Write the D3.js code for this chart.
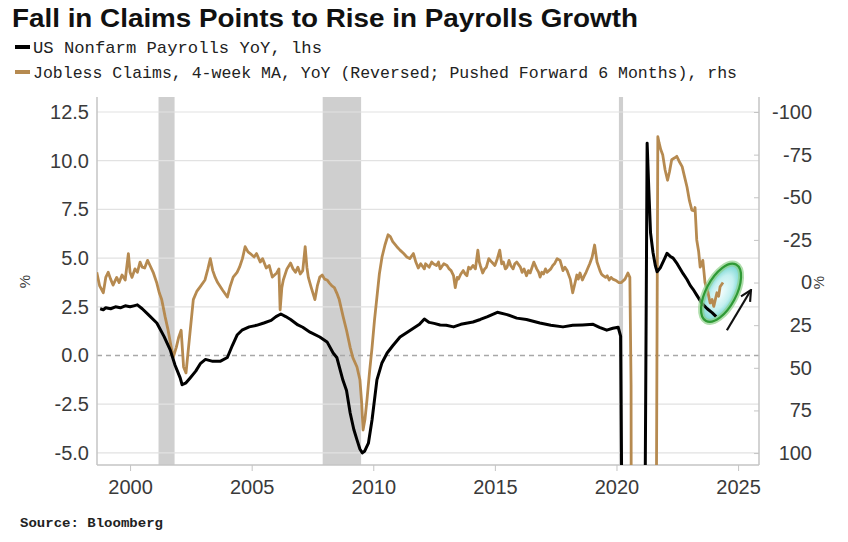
<!DOCTYPE html>
<html><head><meta charset="utf-8">
<script src="https://cdn.jsdelivr.net/npm/d3@7"></script>
<style>body{margin:0;background:#fff;} svg{display:block;}</style>
</head><body><svg id="c" width="848" height="542"></svg>
<script>
// ---------------- DATA ----------------
const titleText = "Fall in Claims Points to Rise in Payrolls Growth";
const legendLabels = ["US Nonfarm Payrolls YoY, lhs",
  "Jobless Claims, 4-week MA, YoY (Reversed; Pushed Forward 6 Months), rhs"];
const sourceText = "Source: Bloomberg";
const xTicks = [2000, 2005, 2010, 2015, 2020, 2025];
const leftTicks = [12.5, 10, 7.5, 5, 2.5, 0, -2.5, -5];
const rightTicks = [-100, -75, -50, -25, 0, 25, 50, 75, 100];
const recessions = [[2001.17, 2001.83], [2007.92, 2009.5], [2020.1, 2020.27]];

// US Nonfarm Payrolls YoY (%), [decimal year, value]
const payrolls = [
 [1998.77,2.4],[1998.9,2.35],[1999.0,2.45],[1999.2,2.4],[1999.4,2.5],[1999.6,2.45],[1999.8,2.55],
 [2000.0,2.5],[2000.15,2.55],[2000.3,2.6],[2000.5,2.4],[2000.75,2.1],[2001.1,1.67],[2001.4,0.97],
 [2001.65,0.29],[2001.85,-0.5],[2002.06,-1.15],[2002.14,-1.5],[2002.3,-1.4],[2002.47,-1.15],
 [2002.7,-0.8],[2002.9,-0.4],[2003.1,-0.2],[2003.4,-0.3],[2003.7,-0.3],[2004.0,-0.1],[2004.2,0.5],
 [2004.4,1.05],[2004.6,1.3],[2004.9,1.47],[2005.2,1.55],[2005.5,1.67],[2005.8,1.8],[2006.0,2.0],
 [2006.2,2.13],[2006.4,2.0],[2006.6,1.85],[2006.9,1.57],[2007.1,1.45],[2007.4,1.2],[2007.8,0.95],
 [2008.1,0.7],[2008.35,0.13],[2008.5,-0.1],[2008.75,-1.26],[2008.9,-1.8],[2009.05,-2.95],
 [2009.2,-3.8],[2009.33,-4.33],[2009.45,-4.8],[2009.55,-5.0],[2009.65,-4.9],[2009.8,-4.5],
 [2009.95,-3.3],[2010.15,-1.25],[2010.35,-0.4],[2010.57,0.13],[2010.8,0.5],[2011.1,0.95],
 [2011.4,1.2],[2011.65,1.4],[2011.9,1.6],[2012.1,1.87],[2012.3,1.7],[2012.5,1.65],[2012.75,1.57],
 [2013.0,1.55],[2013.3,1.47],[2013.6,1.6],[2014.1,1.72],[2014.4,1.85],[2014.7,2.0],[2015.1,2.22],
 [2015.5,2.1],[2015.9,1.92],[2016.3,1.85],[2016.85,1.67],[2017.3,1.55],[2017.8,1.47],[2018.2,1.55],
 [2018.6,1.57],[2019.04,1.6],[2019.3,1.45],[2019.6,1.3],[2019.85,1.4],[2020.07,1.45],[2020.17,1.0],
 [2020.25,-13.0],[2020.4,-10.0],[2020.6,-7.5],[2020.9,-6.3],[2021.1,-6.0],[2021.17,-9.0],
 [2021.26,10.9],[2021.33,8.5],[2021.4,6.3],[2021.5,5.3],[2021.6,4.6],[2021.67,4.3],[2021.8,4.5],
 [2021.95,4.9],[2022.08,5.25],[2022.2,5.1],[2022.33,5.0],[2022.5,4.7],[2022.74,4.2],[2022.9,3.9],
 [2023.03,3.6],[2023.15,3.4],[2023.3,3.1],[2023.5,2.7],[2023.73,2.4],[2023.93,2.2],[2024.1,2.0]
];

// Jobless claims 4wk MA YoY (%), reversed axis, pushed forward 6 months
const claims = [
 [1998.63,-6],[1998.75,2],[1998.9,6],[1999.0,-3],[1999.1,-6],[1999.2,-2],[1999.3,1.5],[1999.45,-3],
 [1999.55,0],[1999.67,-4.4],[1999.8,-1.5],[1999.93,-17],[2000.0,-6],[2000.08,-3],[2000.2,-8],
 [2000.3,-6],[2000.41,-12],[2000.5,-9],[2000.6,-8.5],[2000.72,-13],[2000.82,-10],[2000.95,-6],
 [2001.1,0.3],[2001.2,6],[2001.3,10],[2001.44,20],[2001.55,27],[2001.64,34],[2001.77,44],
 [2001.9,38],[2002.0,32],[2002.1,28],[2002.2,49.5],[2002.3,53],[2002.46,30],[2002.6,10],
 [2002.75,5],[2002.88,2.5],[2003.08,-1.5],[2003.2,-8],[2003.3,-14],[2003.4,-7],[2003.5,-3],
 [2003.6,0],[2003.8,4.4],[2004.0,8.5],[2004.12,2],[2004.24,-3.2],[2004.4,-6],[2004.5,-9],
 [2004.62,-14],[2004.73,-21],[2004.85,-18],[2004.94,-17],[2005.1,-15],[2005.2,-17],[2005.35,-12],
 [2005.45,-14],[2005.6,-8.5],[2005.72,-10],[2005.85,-3.2],[2006.03,-5.6],[2006.12,-8],[2006.17,16],
 [2006.24,3],[2006.3,-1.5],[2006.45,-8],[2006.6,-11.4],[2006.7,-8],[2006.8,-6],[2006.9,-9],
 [2007.0,-5],[2007.1,-7],[2007.2,-21],[2007.27,-9],[2007.33,-3],[2007.45,3],[2007.6,10],
 [2007.7,2],[2007.8,-3.2],[2007.9,-4.4],[2008.0,-2],[2008.1,-1.5],[2008.2,0.3],[2008.3,2],
 [2008.4,3],[2008.5,6.2],[2008.6,10],[2008.76,20],[2008.9,28],[2009.05,38],[2009.16,44],
 [2009.33,49.5],[2009.45,57],[2009.52,70],[2009.58,86.5],[2009.66,80],[2009.74,69],[2009.85,52],
 [2009.95,38],[2010.05,22],[2010.15,8.5],[2010.25,-5],[2010.36,-15],[2010.48,-22],[2010.61,-28],
 [2010.7,-27],[2010.8,-24],[2010.97,-21],[2011.1,-19],[2011.25,-17],[2011.38,-15],[2011.5,-14],
 [2011.65,-17],[2011.75,-12],[2011.85,-8.5],[2011.95,-11],[2012.0,-10],[2012.1,-8],[2012.15,-11],
 [2012.3,-9],[2012.4,-12],[2012.47,-11],[2012.6,-10],[2012.68,-12],[2012.75,-8],[2012.9,-11],
 [2013.03,-10],[2013.12,-8],[2013.2,-7],[2013.3,-4],[2013.37,3],[2013.45,-3],[2013.5,-2],
 [2013.6,-5],[2013.7,-7],[2013.78,-5],[2013.85,-4],[2013.92,-9],[2014.0,-8],[2014.1,-10],
 [2014.2,-8],[2014.3,-19],[2014.36,-12],[2014.4,-10],[2014.5,-5.6],[2014.58,-8],[2014.65,-9],
 [2014.75,-14],[2014.87,-12],[2015.0,-10],[2015.1,-14],[2015.2,-19],[2015.28,-11],[2015.35,-12],
 [2015.43,-8],[2015.5,-9],[2015.58,-13],[2015.65,-10],[2015.75,-8],[2015.82,-11],[2015.9,-12],
 [2016.05,-9],[2016.12,-6],[2016.2,-8],[2016.3,-4],[2016.38,-7],[2016.45,-5.6],[2016.53,-9],
 [2016.6,-12],[2016.72,-8],[2016.8,-6],[2016.86,-3.2],[2016.93,-6],[2017.0,-5],[2017.08,-8],
 [2017.15,-6],[2017.3,-8],[2017.38,-10],[2017.45,-11],[2017.56,-14],[2017.68,-13],[2017.74,-10],
 [2017.8,-7],[2017.88,-9],[2017.97,-7],[2018.1,-2],[2018.2,6],[2018.3,0],[2018.37,-4.4],
 [2018.43,-2],[2018.5,-5.6],[2018.6,-1.5],[2018.68,-4],[2018.75,-6],[2018.9,-11],[2019.0,-15],
 [2019.1,-22],[2019.2,-12],[2019.32,-7],[2019.38,-5],[2019.45,-4],[2019.55,-3],[2019.62,-4],
 [2019.7,-1.5],[2019.78,-3],[2019.85,-2],[2020.0,-1],[2020.1,0],[2020.2,0],[2020.35,-2],
 [2020.47,-5.6],[2020.55,-3],[2020.6,60],
 [2020.65,600],[2021.0,900],[2021.55,500],[2021.62,200],[2021.7,-85.5],[2021.75,-82],[2021.82,-78],
 [2021.9,-75],[2022.0,-66],[2022.1,-60],[2022.18,-65],[2022.27,-72],[2022.38,-73],[2022.48,-74],
 [2022.58,-71],[2022.7,-68],[2022.8,-62],[2022.9,-56],[2023.0,-48],[2023.1,-42.5],[2023.2,-42],
 [2023.23,-44],[2023.3,-25],[2023.38,-18],[2023.44,-9],[2023.55,-13],[2023.64,0],[2023.75,5],
 [2023.85,12],[2023.93,10],[2024.0,14],[2024.13,6],[2024.2,8],[2024.26,2.5],[2024.38,0]
];

// annotation (highlight ellipse and arrow), in data units
const highlight = {year: 2024.3, value: 6, rx: 15, ry: 32, angle: 28};
const arrowPts = [[2024.54, 28], [2025.53, 4.4]];

// ---------------- CHART ----------------
const svg = d3.select("#c");
const P = {l: 97, r: 759, t: 97, b: 465};
const x = d3.scaleLinear().domain([1998.64, 2025.86]).range([P.l, P.r]);
const yL = d3.scaleLinear().domain([-5.62, 13.27]).range([P.b, P.t]);
const yR = d3.scaleLinear().domain([107.0, -108.8]).range([P.b, P.t]);
const axisFont = "'Liberation Sans', Arial, sans-serif";
const txtCol = "#3a3a3a";

svg.append("rect").attr("width", 848).attr("height", 542).attr("fill", "#fff");

// recession shading
svg.append("g").selectAll("rect").data(recessions).join("rect")
  .attr("x", d => x(d[0])).attr("width", d => x(d[1]) - x(d[0]))
  .attr("y", P.t).attr("height", P.b - P.t).attr("fill", "#cfcfcf");

// gridlines
svg.append("g").selectAll("line").data(leftTicks).join("line")
  .attr("x1", P.l).attr("x2", P.r).attr("y1", d => yL(d)).attr("y2", d => yL(d))
  .attr("stroke", d => d === 0 ? "#a8a8a8" : "#e2e2e2")
  .attr("stroke-width", d => d === 0 ? 1.5 : 1.2)
  .attr("stroke-dasharray", d => d === 0 ? "5,4" : null);

// axes lines
const axCol = "#c4c4c4";
svg.append("line").attr("x1", P.l).attr("x2", P.l).attr("y1", P.t).attr("y2", P.b).attr("stroke", axCol).attr("stroke-width", 1.5);
svg.append("line").attr("x1", P.r).attr("x2", P.r).attr("y1", P.t).attr("y2", P.b).attr("stroke", axCol).attr("stroke-width", 1.5);
svg.append("line").attr("x1", P.l).attr("x2", P.r).attr("y1", P.b).attr("y2", P.b).attr("stroke", axCol).attr("stroke-width", 1.5);

// x axis
const xa = svg.append("g").attr("transform", `translate(0,${P.b})`)
  .call(d3.axisBottom(x).tickValues(xTicks).tickFormat(d => String(d)).tickSize(6).tickPadding(9));
xa.select(".domain").remove();
xa.selectAll("line").attr("stroke", axCol);
xa.selectAll("text").attr("font-family", axisFont).attr("font-size", 20).attr("fill", txtCol);

// left axis
const la = svg.append("g").attr("transform", `translate(${P.l},0)`)
  .call(d3.axisLeft(yL).tickValues(leftTicks).tickFormat(d => d.toFixed(1)).tickSize(0).tickPadding(8));
la.select(".domain").remove();
la.selectAll("text").attr("font-family", axisFont).attr("font-size", 20).attr("fill", txtCol);

// right axis
const ra = svg.append("g").attr("transform", `translate(${P.r},0)`)
  .call(d3.axisRight(yR).tickValues(rightTicks).tickFormat(d => String(d)).tickSize(0).tickPadding(0));
ra.select(".domain").remove();
ra.selectAll("text").attr("font-family", axisFont).attr("font-size", 20).attr("fill", txtCol)
  .attr("text-anchor", "end").attr("x", 53);
ra.selectAll(".tick").append("line").attr("x1", -5).attr("x2", 0).attr("stroke", axCol);

// % labels
svg.append("text").attr("transform", `translate(30,${yL(3.8)}) rotate(-90)`)
  .attr("text-anchor", "middle").attr("font-family", axisFont).attr("font-size", 15).attr("fill", txtCol).text("%");
svg.append("text").attr("transform", `translate(824,${yR(0)}) rotate(-90)`)
  .attr("text-anchor", "middle").attr("font-family", axisFont).attr("font-size", 15).attr("fill", txtCol).text("%");

// clip
svg.append("clipPath").attr("id", "clip").append("rect")
  .attr("x", P.l).attr("y", P.t).attr("width", P.r - P.l).attr("height", P.b - P.t);

// highlight ellipse fill (under lines)
const defs = svg.append("defs");
const rg = defs.append("radialGradient").attr("id", "hg");
rg.append("stop").attr("offset", "0%").attr("stop-color", "#f2fdfd");
rg.append("stop").attr("offset", "60%").attr("stop-color", "#c4f0f0");
rg.append("stop").attr("offset", "100%").attr("stop-color", "#6fd3cf");
const hx = x(highlight.year), hy = yR(highlight.value);
svg.append("ellipse").attr("cx", hx).attr("cy", hy).attr("rx", highlight.rx).attr("ry", highlight.ry)
  .attr("transform", `rotate(${highlight.angle},${hx},${hy})`).attr("fill", "url(#hg)");

// lines
const lineL = d3.line().x(d => x(d[0])).y(d => yL(d[1])).curve(d3.curveLinear);
const lineR = d3.line().x(d => x(d[0])).y(d => yR(d[1])).curve(d3.curveLinear);
const gl = svg.append("g").attr("clip-path", "url(#clip)");
gl.append("path").datum(claims).attr("d", lineR).attr("fill", "none")
  .attr("stroke", "#b68a50").attr("stroke-width", 2.8).attr("stroke-linejoin", "round");
gl.append("path").datum(payrolls).attr("d", lineL).attr("fill", "none")
  .attr("stroke", "#000").attr("stroke-width", 3).attr("stroke-linejoin", "round");

// highlight ring
svg.append("ellipse").attr("cx", hx).attr("cy", hy).attr("rx", highlight.rx).attr("ry", highlight.ry)
  .attr("transform", `rotate(${highlight.angle},${hx},${hy})`).attr("fill", "none")
  .attr("stroke", "#8fd08a").attr("stroke-width", 6).attr("opacity", 0.7);
svg.append("ellipse").attr("cx", hx).attr("cy", hy).attr("rx", highlight.rx).attr("ry", highlight.ry)
  .attr("transform", `rotate(${highlight.angle},${hx},${hy})`).attr("fill", "none")
  .attr("stroke", "#2f9a35").attr("stroke-width", 2.2);

// arrow
defs.append("marker").attr("id", "ah").attr("viewBox", "0 0 10 10").attr("refX", 9).attr("refY", 5)
  .attr("markerWidth", 6).attr("markerHeight", 6).attr("orient", "auto")
  .append("path").attr("d", "M1,1 L9,5 L1,9").attr("fill", "none").attr("stroke", "#111").attr("stroke-width", 1.6);
svg.append("line").attr("x1", x(arrowPts[0][0])).attr("y1", yR(arrowPts[0][1]))
  .attr("x2", x(arrowPts[1][0])).attr("y2", yR(arrowPts[1][1]))
  .attr("stroke", "#111").attr("stroke-width", 2.2).attr("marker-end", "url(#ah)");

// title
svg.append("text").attr("x", 12).attr("y", 27).attr("font-family", "'Liberation Sans Narrow','Liberation Sans',Arial,sans-serif")
  .attr("font-weight", "bold").attr("font-size", 26).attr("fill", "#111")
  .attr("textLength", 626).attr("lengthAdjust", "spacingAndGlyphs").text(titleText);

// legend
const legCols = ["#000", "#b68a50"];
const lg = svg.append("g").selectAll("g").data(legendLabels).join("g")
  .attr("transform", (d, i) => `translate(0,${47 + i * 25})`);
lg.append("line").attr("x1", 15).attr("x2", 30).attr("y1", 0).attr("y2", 0)
  .attr("stroke", (d, i) => legCols[i]).attr("stroke-width", 4);
lg.append("text").attr("x", 33).attr("y", 6).attr("font-family", "'Liberation Mono','DejaVu Sans Mono',monospace")
  .attr("font-size", 17).attr("fill", "#222")
  .attr("textLength", (d, i) => i === 0 ? 289 : 704).attr("lengthAdjust", "spacingAndGlyphs").text(d => d);

// source
svg.append("text").attr("x", 20).attr("y", 527).attr("font-family", "'Liberation Mono','DejaVu Sans Mono',monospace")
  .attr("font-weight", "bold").attr("font-size", 13).attr("fill", "#222")
  .attr("textLength", 143).attr("lengthAdjust", "spacingAndGlyphs").text(sourceText);
</script></body></html>
